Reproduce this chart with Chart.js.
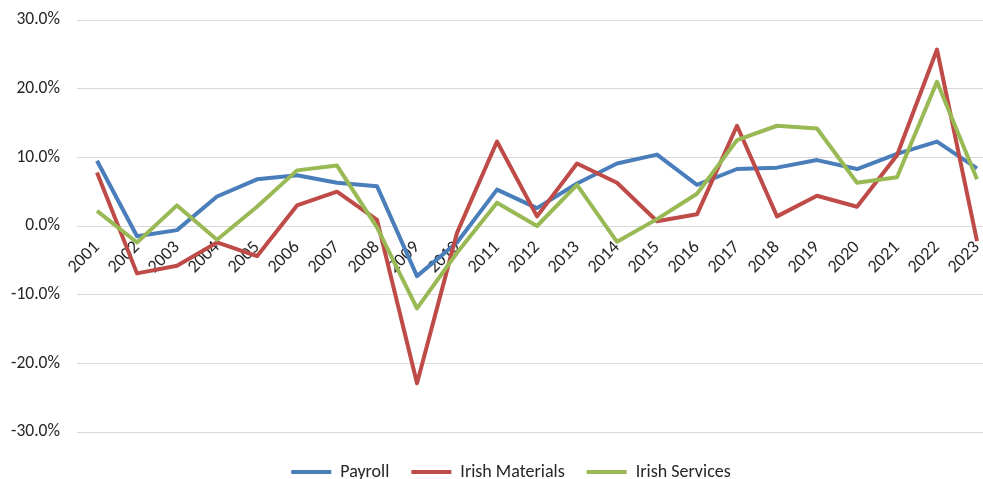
<!DOCTYPE html>
<html>
<head>
<meta charset="utf-8">
<script src="https://cdn.jsdelivr.net/npm/chart.js@4"></script>
<style>
  html, body { margin: 0; padding: 0; background: #fff; }
  #wrap { width: 983px; height: 479px; overflow: hidden; position: relative; }
  canvas { display: block; }
</style>
</head>
<body>
<div id="wrap"><canvas id="c" width="1022" height="479"></canvas></div>
<script>
// Annual growth rates (%)
const years = ['2001','2002','2003','2004','2005','2006','2007','2008','2009','2010','2011','2012',
               '2013','2014','2015','2016','2017','2018','2019','2020','2021','2022','2023'];
const payroll = [9.5, -1.5, -0.6, 4.3, 6.8, 7.4, 6.3, 5.8, -7.3, -2.4, 5.3, 2.6,
                 6.2, 9.1, 10.4, 6.0, 8.3, 8.5, 9.6, 8.3, 10.5, 12.3, 8.4];
const irishMaterials = [7.8, -6.9, -5.8, -2.4, -4.4, 3.0, 5.0, 0.9, -22.9, -1.0, 12.3, 1.4,
                        9.1, 6.3, 0.7, 1.7, 14.6, 1.4, 4.4, 2.8, 10.3, 25.7, -2.2];
const irishServices = [2.2, -2.4, 3.0, -2.0, 2.8, 8.1, 8.8, -0.2, -12.0, -3.9, 3.4, 0.0,
                       6.0, -2.3, 1.0, 4.7, 12.5, 14.6, 14.2, 6.3, 7.1, 21.0, 6.8];
const yTicks = [-30, -20, -10, 0, 10, 20, 30];

const FONT = 'Carlito, Lato, sans-serif';
const TEXT = '#262626';

const series = [
  { label: 'Payroll',         data: payroll,        color: '#4A7EBB', order: 3 },
  { label: 'Irish Materials', data: irishMaterials, color: '#BE4B48', order: 2 },
  { label: 'Irish Services',  data: irishServices,  color: '#98B954', order: 1 }
];

new Chart(document.getElementById('c'), {
  type: 'line',
  data: {
    labels: years,
    datasets: series.map(s => ({
      label: s.label,
      data: s.data,
      borderColor: s.color,
      backgroundColor: s.color,
      borderWidth: 4,
      pointRadius: 0,
      tension: 0,
      borderJoinStyle: 'round',
      fill: false,
      order: s.order
    }))
  },
  options: {
    responsive: false,
    animation: false,
    layout: { padding: { left: 0, right: 0, top: 20, bottom: -12 } },
    scales: {
      // category axis drawn along the zero line
      x: {
        position: { y: 0 },
        offset: true,
        grid: { display: false, drawTicks: false },
        border: { display: false },
        ticks: {
          autoSkip: false,
          minRotation: 45,
          maxRotation: 45,
          padding: 11,
          color: TEXT,
          font: { family: FONT, size: 18 }
        },
        afterFit: (scale) => { scale.height = 0; }
      },
      // blank strip between the plot and the legend
      xGap: {
        type: 'category',
        position: 'bottom',
        grid: { display: false, drawTicks: false },
        border: { display: false },
        ticks: { display: false },
        afterFit: (scale) => { scale.height = 9; }
      },
      y: {
        min: -30,
        max: 30,
        afterBuildTicks: (scale) => { scale.ticks = yTicks.map(v => ({ value: v })); },
        grid: {
          color: '#D9D9D9',
          lineWidth: 1,
          drawTicks: true,
          tickLength: 17,
          tickColor: 'rgba(0,0,0,0)'
        },
        border: { display: false },
        ticks: {
          padding: 0,
          color: TEXT,
          font: { family: FONT, size: 17.5 },
          callback: (v) => v.toFixed(1) + '%'
        },
        afterFit: (scale) => { scale.width = 77; }
      },
      // blank margin on the right of the plot
      yGap: {
        type: 'linear',
        position: 'right',
        grid: { display: false, drawTicks: false },
        border: { display: false },
        ticks: { display: false },
        afterFit: (scale) => { scale.width = 25; }
      }
    },
    plugins: {
      tooltip: { enabled: false },
      legend: {
        position: 'bottom',
        labels: {
          boxWidth: 40,
          boxHeight: 4,
          padding: 22,
          color: TEXT,
          font: { family: FONT, size: 18 },
          sort: (a, b) => a.datasetIndex - b.datasetIndex,
          generateLabels: (chart) =>
            Chart.defaults.plugins.legend.labels.generateLabels(chart).map(item => ({
              ...item, lineWidth: 0, fillStyle: item.strokeStyle
            }))
        }
      }
    }
  }
});
</script>
</body>
</html>
